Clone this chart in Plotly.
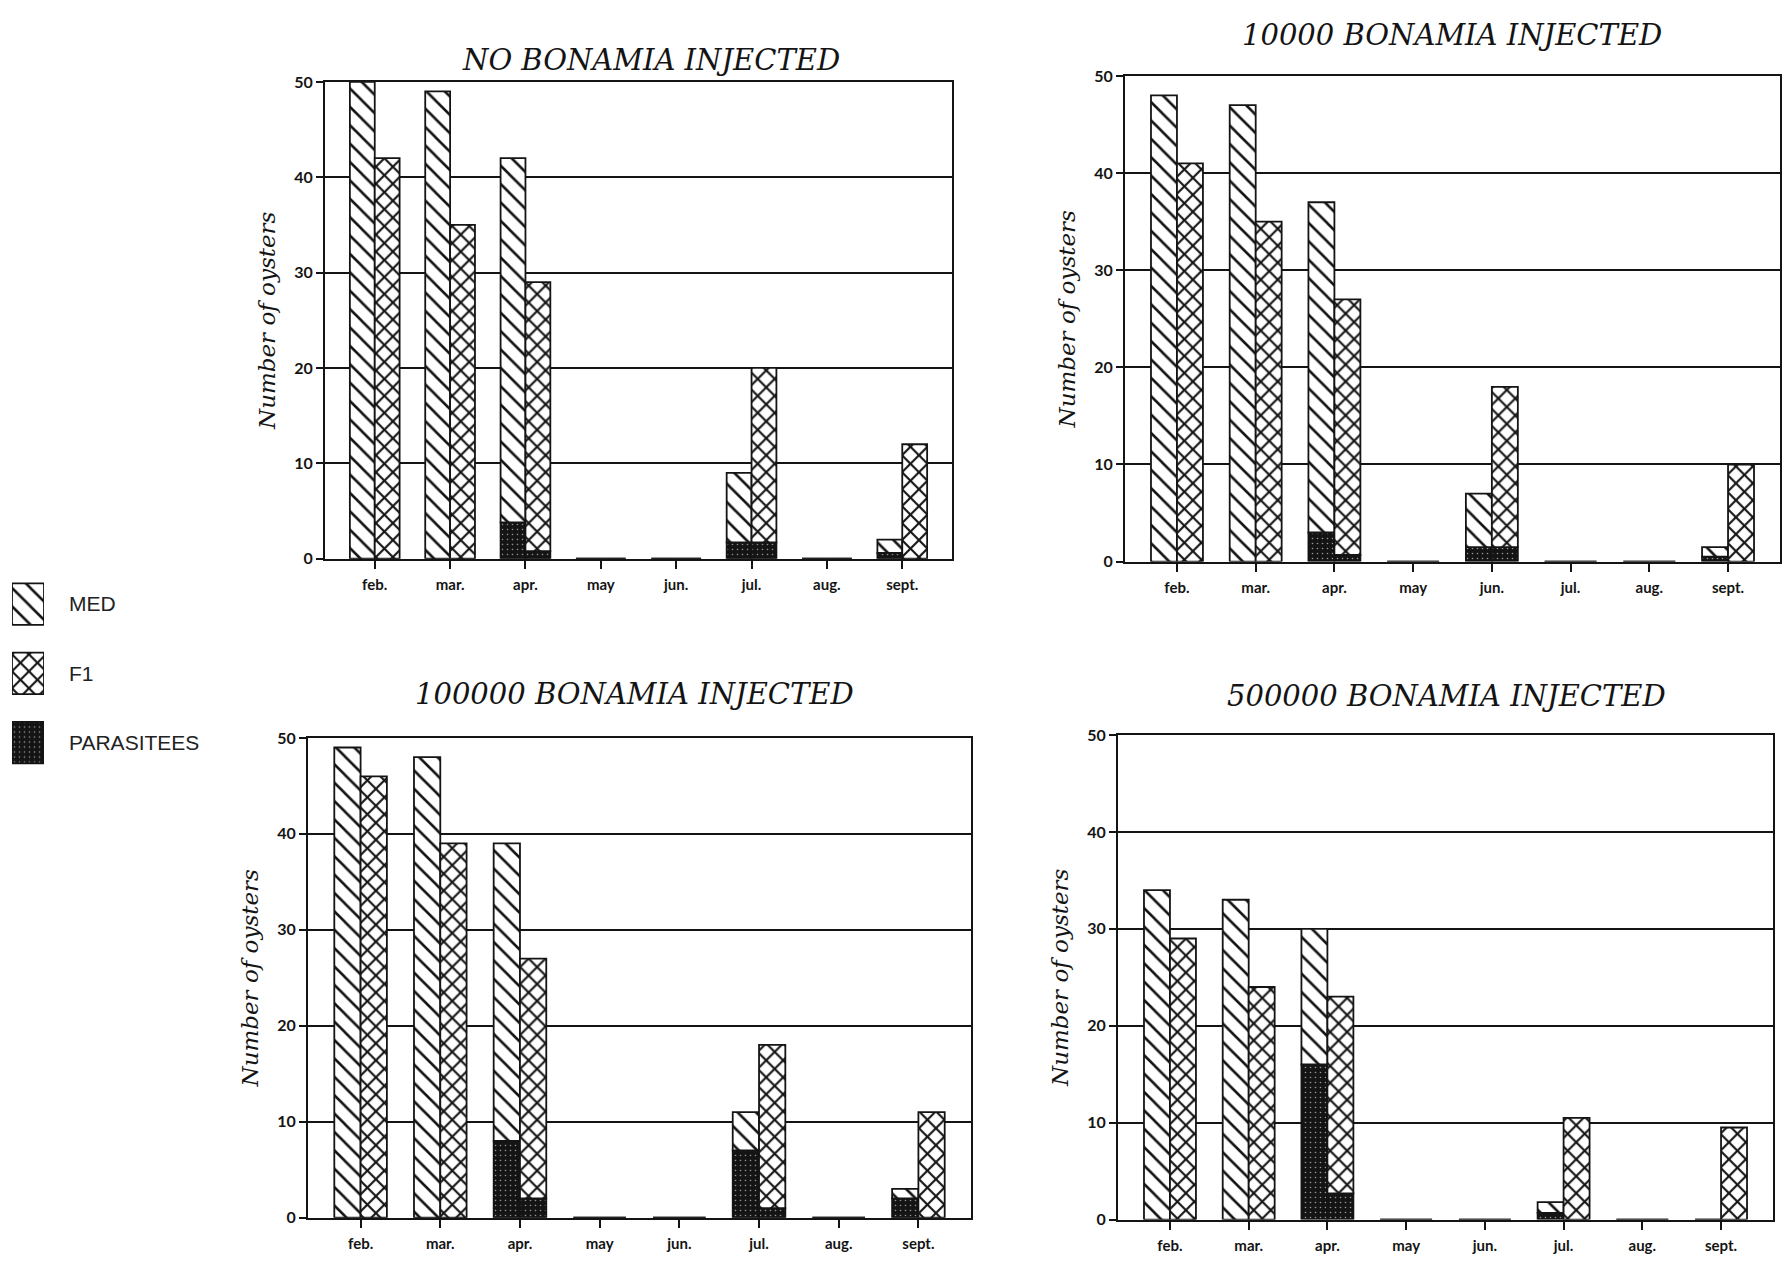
import plotly.graph_objects as go

# Sampling months (category axis)
months = ["feb.", "mar.", "apr.", "may", "jun.", "jul.", "aug.", "sept."]

panel_titles = [
    "NO BONAMIA INJECTED",
    "10000 BONAMIA INJECTED",
    "100000 BONAMIA INJECTED",
    "500000 BONAMIA INJECTED",
]

# Surviving oysters per month, MED stock and F1 stock, for each dose,
# with the number of those oysters found parasitized (drawn at the base of each bar)
med_dose0 = [50, 49, 42, 0, 0, 9, 0, 2]
f1_dose0 = [42, 35, 29, 0, 0, 20, 0, 12]
med_par_dose0 = [0, 0, 3.8, 0, 0, 1.7, 0, 0.6]
f1_par_dose0 = [0, 0, 0.8, 0, 0, 1.7, 0, 0]

med_dose1 = [48, 47, 37, 0, 7, 0, 0, 1.5]
f1_dose1 = [41, 35, 27, 0, 18, 0, 0, 10]
med_par_dose1 = [0, 0, 3, 0, 1.5, 0, 0, 0.5]
f1_par_dose1 = [0, 0, 0.7, 0, 1.5, 0, 0, 0]

med_dose2 = [49, 48, 39, 0, 0, 11, 0, 3]
f1_dose2 = [46, 39, 27, 0, 0, 18, 0, 11]
med_par_dose2 = [0, 0, 8, 0, 0, 7, 0, 2]
f1_par_dose2 = [0, 0, 2, 0, 0, 1, 0, 0]

med_dose3 = [34, 33, 30, 0, 0, 1.8, 0, 0]
f1_dose3 = [29, 24, 23, 0, 0, 10.5, 0, 9.5]
med_par_dose3 = [0, 0, 16, 0, 0, 0.7, 0, 0]
f1_par_dose3 = [0, 0, 2.7, 0, 0, 0, 0, 0]

legend_names = ["MED", "F1", "PARASITEES"]
y_ticks = [0, 10, 20, 30, 40, 50]

panels = [
    (med_dose0, f1_dose0, med_par_dose0, f1_par_dose0),
    (med_dose1, f1_dose1, med_par_dose1, f1_par_dose1),
    (med_dose2, f1_dose2, med_par_dose2, f1_par_dose2),
    (med_dose3, f1_dose3, med_par_dose3, f1_par_dose3),
]

# ---- styling -------------------------------------------------------------
W, H = 1792, 1268
INK = "#141414"
BAR_W = 0.33

patterns = {
    "MED": dict(shape="\\", size=13, solidity=0.2, fgcolor=INK, bgcolor="white", fillmode="replace"),
    "F1": dict(shape="x", size=12, solidity=0.32, fgcolor=INK, bgcolor="white", fillmode="replace"),
    "PARASITEES": dict(shape=".", size=5, solidity=0.08, fgcolor="#9a9a9a", bgcolor=INK, fillmode="replace"),
}
fill = {"MED": "white", "F1": "white", "PARASITEES": INK}

# plot boxes in pixels: (left, right, top, bottom)
boxes = [(325, 952, 73, 557), (1125, 1780, 67, 560), (308, 971, 739, 1226), (1118, 1773, 736, 1228)]
title_pos = [(651, 51), (1452, 25), (634, 694), (1446, 696)]


def px_x(v):
    return v / W


def px_y(v):
    return 1 - v / H


def bar(kind, x, y, base, offset, xa, ya):
    return go.Bar(
        x=x, y=y, base=base, width=BAR_W, offset=offset,
        marker=dict(color=fill[kind], pattern=patterns[kind], line=dict(color=INK, width=1.8)),
        xaxis=xa, yaxis=ya, showlegend=False, hoverinfo="x+y",
    )


fig = go.Figure()
layout = dict(
    width=W, height=H, margin=dict(l=0, r=0, t=0, b=0),
    paper_bgcolor="white", plot_bgcolor="white", barmode="overlay",
    showlegend=False, annotations=[],
)

ytick_font = dict(family="Lato", size=16, color=INK, weight="bold")
xtick_font = dict(family="Lato", size=15, color=INK, weight="bold")
serif_it = dict(family="DejaVu Serif", color=INK, style="italic")

for i, (med, f1, med_par, f1_par) in enumerate(panels):
    n = "" if i == 0 else str(i + 1)
    xa, ya = "x" + n, "y" + n
    med_rest = [t - p for t, p in zip(med, med_par)]
    f1_rest = [t - p for t, p in zip(f1, f1_par)]

    fig.add_trace(bar("PARASITEES", months, med_par, None, -BAR_W, xa, ya))
    fig.add_trace(bar("MED", months, med_rest, med_par, -BAR_W, xa, ya))
    fig.add_trace(bar("PARASITEES", months, f1_par, None, 0, xa, ya))
    fig.add_trace(bar("F1", months, f1_rest, f1_par, 0, xa, ya))

    l, r, t, b = boxes[i]
    layout["xaxis" + n] = dict(
        domain=[px_x(l), px_x(r)], anchor=ya, type="category",
        categoryorder="array", categoryarray=months, range=[-0.66, 7.66],
        showline=True, linecolor=INK, linewidth=2, mirror=True,
        ticks="outside", ticklen=8, tickwidth=2, tickcolor=INK,
        tickfont=xtick_font, ticklabelstandoff=3, showgrid=False, zeroline=False,
    )
    layout["yaxis" + n] = dict(
        domain=[px_y(b), px_y(t)], anchor=xa, range=[0, 50],
        tickvals=y_ticks, showline=True, linecolor=INK, linewidth=2, mirror=True,
        ticks="outside", ticklen=7, tickwidth=2, tickcolor=INK, tickfont=ytick_font,
        showgrid=True, gridcolor=INK, gridwidth=1.6, zeroline=False,
        title=dict(text="Number of oysters", font=dict(size=23, **serif_it), standoff=12),
    )
    tx, ty = title_pos[i]
    layout["annotations"].append(dict(
        text=panel_titles[i], x=px_x(tx), y=px_y(ty), xref="paper", yref="paper",
        xanchor="center", yanchor="middle", showarrow=False,
        font=dict(size=29, **serif_it),
    ))

# Key: one swatch per series, drawn on its own small axis
for name in legend_names:
    fig.add_trace(go.Bar(
        y=[name], x=[1], orientation="h", width=0.6,
        marker=dict(color=fill[name], pattern=patterns[name], line=dict(color=INK, width=1.8)),
        xaxis="x5", yaxis="y5", showlegend=False, hoverinfo="y",
    ))

layout["xaxis5"] = dict(domain=[px_x(12), px_x(44)], anchor="y5", range=[0, 1], visible=False)
layout["yaxis5"] = dict(
    domain=[px_y(779), px_y(568)], anchor="x5", type="category",
    categoryorder="array", categoryarray=legend_names, autorange="reversed",
    side="right", showline=False, showgrid=False, zeroline=False, ticks="",
    tickfont=dict(family="Liberation Sans", size=21, color="#222"), ticklabelstandoff=24,
)

fig.update_layout(**layout)
fig.write_html("out.html")
